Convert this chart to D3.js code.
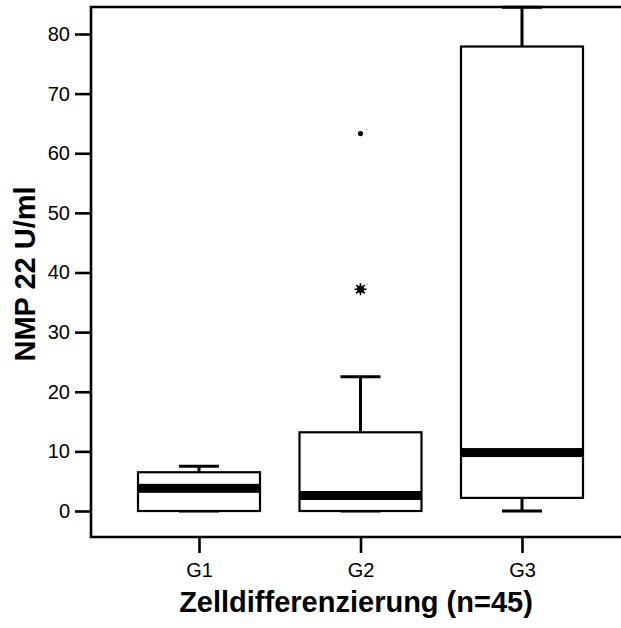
<!DOCTYPE html>
<html><head><meta charset="utf-8">
<script src="https://cdn.jsdelivr.net/npm/d3@7"></script>
<style>
html,body{margin:0;padding:0;background:#fff;}
svg{display:block;font-family:Arial,"Liberation Sans",sans-serif;}
</style></head>
<body>
<svg id="c" width="621" height="628"></svg>
<script>
// ---- data ----
const groups = ["G1", "G2", "G3"];
const whiskerLow  = [0, 0, 0];
const q1          = [0, 0, 2.2];
const medians     = [3.8, 2.6, 9.8];
const q3          = [6.5, 13.2, 77.9];
const whiskerHigh = [7.5, 22.5, 84.5];
const outlierGroup = ["G2", "G2"];
const outlierValue = [63.3, 37.2];
const outlierType  = ["circle", "star"];
const yTicks = [0, 10, 20, 30, 40, 50, 60, 70, 80];
const xTitle = "Zelldifferenzierung (n=45)";
const yTitle = "NMP 22 U/ml";

// ---- layout ----
const svg = d3.select("#c");
const frame = {left: 91, top: 7, right: 621, bottom: 537};
const y = d3.scaleLinear().domain([0, 80]).range([511, 34]);
const x = d3.scalePoint().domain(groups).range([199, 522]);
const boxW = 122, capW = 40, medH = 9;

// frame
svg.append("path")
  .attr("d", `M${frame.right},${frame.top}H${frame.left}V${frame.bottom}H${frame.right}`)
  .attr("fill", "none").attr("stroke", "#000").attr("stroke-width", 2.6);

// y axis
const ya = svg.append("g").attr("transform", `translate(${frame.left},0)`)
  .call(d3.axisLeft(y).tickValues(yTicks).tickSize(16).tickPadding(5).tickFormat(d3.format("d")));
ya.select(".domain").remove();
ya.selectAll(".tick line").attr("stroke", "#000").attr("stroke-width", 2.6);
ya.selectAll(".tick text").attr("fill", "#000").style("font-size", "20px");

// x axis
const xa = svg.append("g").attr("transform", `translate(0,${frame.bottom})`)
  .call(d3.axisBottom(x).tickSize(16).tickPadding(10));
xa.select(".domain").remove();
xa.selectAll(".tick line").attr("stroke", "#000").attr("stroke-width", 2.6);
xa.selectAll(".tick text").attr("fill", "#000").style("font-size", "20px");

// boxes
const data = groups.map((g, i) => ({g, lo: whiskerLow[i], q1: q1[i], med: medians[i], q3: q3[i], hi: whiskerHigh[i]}));
const bx = svg.append("g");
data.forEach(d => {
  const cx = x(d.g);
  bx.append("line").attr("x1", cx).attr("x2", cx).attr("y1", y(d.q3)).attr("y2", y(d.hi))
    .attr("stroke", "#000").attr("stroke-width", 3);
  bx.append("line").attr("x1", cx).attr("x2", cx).attr("y1", y(d.q1)).attr("y2", y(d.lo))
    .attr("stroke", "#000").attr("stroke-width", 3);
  bx.append("line").attr("x1", cx - capW/2).attr("x2", cx + capW/2).attr("y1", y(d.hi)).attr("y2", y(d.hi))
    .attr("stroke", "#000").attr("stroke-width", 3);
  bx.append("line").attr("x1", cx - capW/2).attr("x2", cx + capW/2).attr("y1", y(d.lo)).attr("y2", y(d.lo))
    .attr("stroke", "#000").attr("stroke-width", 3);
  bx.append("rect").attr("x", cx - boxW/2).attr("width", boxW)
    .attr("y", y(d.q3)).attr("height", y(d.q1) - y(d.q3))
    .attr("fill", "#fff").attr("stroke", "#000").attr("stroke-width", 2.2);
  bx.append("rect").attr("x", cx - boxW/2).attr("width", boxW)
    .attr("y", y(d.med) - medH/2).attr("height", medH).attr("fill", "#000");
});

// outliers
outlierValue.forEach((v, i) => {
  const cx = x(outlierGroup[i]), cy = y(v);
  if (outlierType[i] === "circle") {
    svg.append("circle").attr("cx", cx).attr("cy", cy).attr("r", 2.6).attr("fill", "#000");
  } else {
    const r = 6;
    const p = d3.path();
    [0, 45, 90, 135].forEach(a => {
      const t = a * Math.PI / 180;
      p.moveTo(-r * Math.cos(t), -r * Math.sin(t));
      p.lineTo(r * Math.cos(t), r * Math.sin(t));
    });
    svg.append("path").attr("transform", `translate(${cx},${cy})`)
      .attr("d", p.toString()).attr("stroke", "#000").attr("stroke-width", 1.6).attr("fill", "none");
    svg.append("circle").attr("cx", cx).attr("cy", cy).attr("r", 3.6).attr("fill", "#000");
  }
  svg.append("text").attr("x", cx + 5).attr("y", cy - 3).text("-")
    .attr("fill", "#999").style("font-size", "7px");
});

// titles
svg.append("text").attr("x", 356).attr("y", 612).attr("text-anchor", "middle")
  .style("font-size", "29px").style("font-weight", "bold").text(xTitle);
svg.append("text").attr("transform", "translate(35,274) rotate(-90)").attr("text-anchor", "middle")
  .style("font-size", "29px").style("font-weight", "bold").text(yTitle);
</script>
</body></html>
